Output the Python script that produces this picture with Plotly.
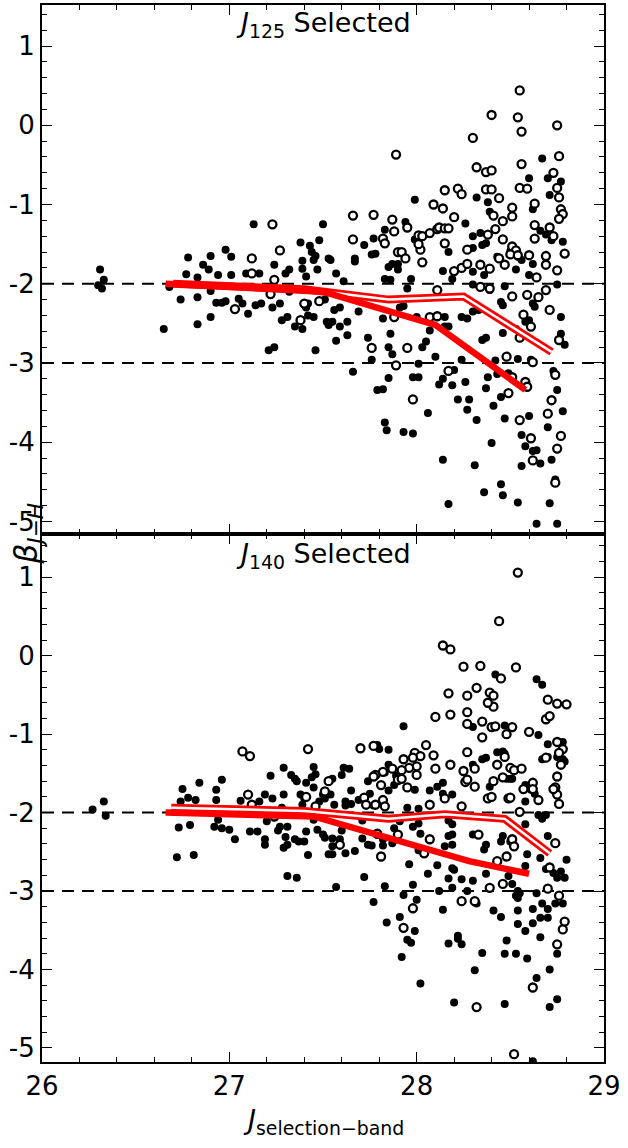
import plotly.graph_objects as go
from plotly.subplots import make_subplots

# ---------------- data ----------------
top_filled = [
 (26.31,-1.82),(26.33,-1.95),(26.30,-2.02),(26.32,-2.06),
 (26.68,-2.04),(26.65,-2.57),(26.74,-2.2),(26.78,-1.67),(26.77,-1.88),(26.83,-2.51),(26.83,-2.17),(26.83,-1.92),
 (26.86,-1.76),(26.89,-1.82),(26.9,-2.09),(26.9,-2.42),(26.9,-1.65),(26.94,-1.89),(26.93,-2.24),(26.96,-2.24),
 (26.98,-2.22),(26.98,-1.57),(27.01,-1.66),(27.01,-1.89),(27.05,-2.19),(27.07,-2.25),(27.1,-2.38),(27.09,-1.87),
 (27.13,-1.25),(27.14,-2.27),(27.16,-1.87),(27.17,-2.25),(27.21,-2.84),(27.24,-2.8),(27.24,-1.76),(27.23,-2.3),
 (27.27,-2.25),(27.28,-2.46),(27.31,-2.42),(27.3,-1.87),(27.32,-1.82),(27.32,-2.1),(27.35,-2.54),(27.39,-2.57),
 (27.38,-1.48),(27.39,-1.71),(27.39,-1.81),(27.41,-1.91),(27.43,-1.52),(27.44,-1.6),(27.45,-1.7),(27.46,-1.65),
 (27.47,-1.82),(27.48,-1.45),(27.5,-1.25),(27.46,-2.84),(27.42,-2.25),(27.41,-2.3),(27.42,-2.4),(27.45,-2.42),
 (27.51,-2.2),(27.52,-2.48),(27.53,-2.52),(27.53,-1.68),
 (27.99,-0.94),(27.94,-1.22),(27.83,-1.32),(27.77,-1.43),(27.72,-1.51),(27.76,-1.63),(27.78,-1.62),(27.67,-1.68),
 (27.67,-1.72),(27.54,-1.7),(27.57,-1.87),(27.61,-1.97),(27.9,-1.75),(27.87,-1.75),(27.85,-1.79),(27.9,-1.82),
 (27.99,-1.44),(28.17,-1.6),(28.14,-1.84),(28.26,-1.24),(27.83,-1.94),(27.86,-1.95),(27.97,-1.94),(27.95,-2.06),(28.19,-1.94),
 (27.56,-2.33),(27.59,-2.3),(27.55,-2.48),(27.59,-2.54),(27.63,-2.48),(27.63,-2.65),(27.57,-2.72),(27.69,-2.35),
 (27.74,-2.68),(27.76,-2.96),(27.66,-3.11),(27.82,-2.44),(27.86,-2.63),(27.85,-2.8),(27.87,-2.89),(27.85,-3.19),
 (27.79,-3.34),(27.82,-3.33),(28.01,-3.01),(27.98,-3.18),(28.01,-3.18),(27.83,-3.75),(27.84,-3.85),(27.93,-3.87),
 (27.98,-3.89),(28.06,-3.63),(28.14,-4.22),(28.17,-4.78),(28.03,-2.8),(28.05,-2.73),(28.1,-2.92),(28.12,-3.27),
 (28.14,-3.2),(28.2,-3.09),(28.19,-3.28),(28.22,-3.46),(28.26,-3.24),(28.28,-3.46),(28.27,-3.59),(28.24,-2.96),
 (28.07,-2.59),(28.15,-2.42),(28.17,-2.54),(28.15,-2.54),(28.0,-2.42),(27.91,-2.3),(27.93,-2.28),(28.24,-2.42),(28.27,-2.44),
 (28.67,-0.42),(28.6,-0.67),(28.7,-0.67),(28.77,-0.71),(28.32,-0.91),(28.38,-0.97),(28.71,-0.88),(28.62,-1.06),
 (28.39,-1.09),(28.66,-1.33),(28.69,-1.38),(28.72,-1.45),(28.3,-1.4),(28.34,-1.36),(28.37,-1.49),(28.35,-1.51),
 (28.3,-1.55),(28.43,-1.66),(28.5,-1.59),(28.56,-1.7),(28.54,-1.66),(28.78,-1.47),(28.3,-1.85),(28.36,-1.89),
 (28.53,-1.82),(28.6,-1.89),(28.62,-1.75),(28.47,-2.03),(28.75,-2.01),(28.39,-2.08),(28.3,-2.01),
 (28.46,-2.27),(28.45,-2.23),(28.3,-2.35),(28.33,-2.33),(28.35,-2.71),(28.37,-2.68),(28.46,-2.62),(28.53,-2.57),
 (28.58,-2.48),(28.62,-2.25),(28.63,-2.29),(28.6,-2.46),(28.77,-2.42),(28.77,-2.63),(28.79,-2.77),(28.42,-2.97),
 (28.54,-2.95),(28.61,-2.96),(28.38,-3.18),(28.43,-3.14),(28.49,-3.13),(28.37,-3.32),(28.45,-3.43),(28.41,-3.54),
 (28.32,-3.72),(28.47,-3.7),(28.6,-3.67),(28.73,-3.1),(28.75,-3.34),(28.78,-3.61),(28.7,-3.81),(28.56,-3.91),
 (28.58,-4.05),(28.62,-4.11),(28.64,-4.1),(28.4,-4.01),(28.31,-4.29),(28.56,-4.3),(28.66,-4.27),(28.72,-4.22),
 (28.45,-4.53),(28.46,-4.67),(28.36,-4.63),(28.54,-4.76),(28.71,-4.77),(28.64,-5.03),(28.75,-5.03),(28.74,-4.47),
]
top_open = [
 (27.03,-2.32),(27.12,-1.68),(27.12,-1.87),(27.23,-1.25),(27.22,-2.13),(27.24,-1.95),(27.27,-1.58),(27.38,-2.46),
 (27.4,-2.25),(27.48,-2.22),
 (27.89,-0.37),(28.3,-0.16),(28.15,-0.82),(28.22,-0.8),(28.24,-0.87),(28.09,-1.0),(28.14,-1.05),(28.2,-1.16),
 (27.66,-1.14),(27.77,-1.13),(27.87,-1.19),(27.95,-1.29),(27.88,-1.34),(27.66,-1.44),(27.82,-1.43),(27.83,-1.49),
 (27.9,-1.6),(27.92,-1.6),(27.94,-1.68),(28.01,-1.39),(28.02,-1.57),(28.01,-1.5),(28.03,-1.4),(28.07,-1.36),
 (28.11,-1.31),(28.12,-1.29),(28.15,-1.3),(28.17,-1.3),(28.15,-1.49),(28.03,-1.73),(28.2,-1.84),(28.24,-1.8),
 (28.27,-1.57),(28.27,-1.75),(28.11,-2.08),
 (27.76,-2.81),(27.89,-3.03),(27.95,-2.81),(27.98,-3.46),(28.17,-3.1),(28.07,-2.42),(28.11,-2.41),(27.88,-2.42),
 (28.55,0.44),(28.4,0.13),(28.54,0.1),(28.56,-0.08),(28.75,0.0),(28.32,-0.53),(28.37,-0.59),(28.4,-0.57),
 (28.56,-0.49),(28.76,-0.39),(28.73,-0.6),(28.37,-0.81),(28.4,-0.81),(28.55,-0.79),(28.59,-0.8),(28.44,-0.92),
 (28.75,-0.79),(28.76,-0.91),(28.63,-0.99),(28.51,-1.04),(28.51,-1.15),(28.77,-1.06),(28.78,-1.12),(28.76,-1.18),
 (28.41,-1.14),(28.46,-1.21),(28.42,-1.31),(28.63,-1.26),(28.71,-1.29),(28.38,-1.38),(28.46,-1.44),(28.63,-1.43),
 (28.73,-1.4),(28.51,-1.53),(28.53,-1.58),(28.5,-1.63),(28.54,-1.64),(28.6,-1.64),(28.69,-1.65),(28.79,-1.62),
 (28.44,-1.68),(28.34,-1.76),(28.47,-1.76),(28.69,-1.76),(28.39,-1.81),(28.75,-1.83),(28.64,-1.92),(28.69,-2.08),
 (28.51,-2.16),(28.59,-2.14),(28.65,-2.17),(28.34,-2.04),(28.39,-2.06),
 (28.71,-2.33),(28.57,-2.39),(28.61,-2.54),(28.55,-2.68),(28.76,-2.71),(28.48,-2.92),(28.62,-2.99),(28.74,-3.15),
 (28.51,-3.18),(28.58,-3.24),(28.59,-3.3),(28.49,-3.38),(28.72,-3.47),(28.7,-3.64),(28.55,-3.72),(28.61,-3.95),
 (28.77,-3.92),(28.75,-4.08),(28.62,-4.23),(28.74,-4.51),
]
bot_filled = [
 (26.27,-1.96),(26.33,-1.86),(26.34,-2.04),(26.72,-2.57),(26.81,-2.54),(26.73,-2.19),(26.79,-2.16),(26.75,-1.7),
 (26.74,-1.86),(26.78,-1.81),(26.82,-1.84),(26.84,-1.62),(26.93,-1.71),(26.93,-1.84),(26.96,-1.58),(26.94,-2.09),
 (26.92,-2.18),(26.96,-2.2),(27.0,-2.22),(27.03,-2.34),(27.06,-1.85),(27.11,-2.24),(27.15,-2.24),(27.16,-1.86),
 (27.19,-1.77),(27.23,-1.82),(27.19,-2.34),(27.19,-2.41),(27.2,-2.11),(27.22,-1.53),(27.26,-2.23),(27.27,-2.18),
 (27.29,-1.43),(27.29,-1.77),(27.28,-1.94),(27.29,-2.45),(27.31,-2.41),(27.31,-2.18),(27.3,-2.31),(27.33,-1.52),
 (27.35,-1.57),(27.36,-1.6),(27.41,-1.62),(27.45,-1.68),(27.31,-2.81),(27.36,-2.83),(27.35,-2.34),(27.37,-2.37),
 (27.4,-2.37),(27.41,-2.24),(27.42,-2.54),(27.38,-1.77),(27.39,-1.9),(27.4,-1.82),(27.45,-1.42),(27.46,-1.51),
 (27.44,-1.55),(27.45,-2.09),(27.47,-2.22),(27.5,-2.28),(27.51,-2.32),(27.53,-2.53),(27.5,-1.77),(27.51,-1.82),(27.48,-1.86),
 (27.93,-0.9),(27.79,-1.14),(27.8,-1.19),(27.85,-1.2),(27.61,-1.43),(27.64,-1.44),(27.6,-1.52),(27.85,-1.39),
 (27.87,-1.44),(27.83,-1.49),(27.74,-1.6),(27.77,-1.54),(27.89,-1.53),(27.9,-1.6),(27.88,-1.65),(27.99,-1.71),
 (27.85,-1.72),(27.65,-1.72),(28.14,-1.62),(28.11,-1.67),(28.07,-1.72),(28.14,-1.76),(28.19,-1.77),(27.56,-1.9),
 (27.62,-1.86),(27.62,-1.91),(27.65,-1.89),(27.69,-1.84),(27.75,-1.76),(27.54,-1.77),(27.55,-1.57),(27.77,-1.91),
 (27.95,-1.94),(28.01,-1.95),(27.91,-2.11),(27.88,-2.2),(27.98,-2.18),(28.01,-2.14),(28.17,-2.1),(28.19,-2.15),
 (27.6,-2.23),(27.71,-2.1),
 (27.55,-2.33),(27.59,-2.34),(27.55,-2.43),(27.55,-2.53),(27.62,-2.52),(27.67,-2.49),(27.71,-2.33),(27.74,-2.41),
 (27.76,-2.42),(27.82,-2.42),(27.82,-2.34),(27.87,-2.39),(27.57,-2.95),(27.72,-2.82),(27.77,-3.14),(27.83,-2.94),
 (27.84,-3.4),(27.96,-2.66),(27.98,-2.92),(27.93,-3.05),(28.0,-3.11),(27.91,-3.33),(27.99,-3.51),(27.95,-3.62),
 (27.97,-3.66),(27.92,-3.84),(28.02,-4.18),(28.2,-4.42),(28.02,-2.27),(28.01,-2.48),(28.06,-2.78),(28.11,-2.67),
 (28.12,-3.0),(28.14,-3.24),(28.17,-2.84),(28.19,-2.71),(28.2,-2.73),(28.19,-2.96),(28.17,-3.67),(28.22,-3.57),
 (28.22,-3.61),(28.24,-3.68),(28.24,-2.85),(28.27,-3.0),(28.15,-2.43),(28.19,-2.41),(28.17,-2.3),(28.19,-2.28),
 (28.42,-0.24),(28.64,-0.3),(28.67,-0.37),(28.3,-0.91),(28.47,-0.89),(28.65,-1.01),(28.7,-1.13),(28.78,-1.1),
 (28.35,-1.32),(28.37,-1.3),(28.43,-1.23),(28.46,-1.22),(28.47,-1.25),(28.67,-1.32),(28.7,-1.29),(28.75,-1.29),
 (28.78,-1.32),(28.79,-1.35),(28.48,-1.57),(28.5,-1.57),(28.51,-1.57),(28.39,-1.67),(28.58,-1.65),(28.61,-1.71),
 (28.63,-1.76),(28.58,-1.86),(28.3,-1.39),(28.65,-2.03),(28.69,-2.03),(28.67,-2.08),(28.58,-2.15),
 (28.37,-2.41),(28.36,-2.47),(28.3,-2.28),(28.46,-2.3),(28.45,-2.37),(28.5,-2.37),(28.59,-2.53),(28.66,-2.58),
 (28.7,-2.3),(28.69,-2.72),(28.73,-2.77),(28.75,-2.83),(28.77,-2.75),(28.79,-2.83),(28.8,-2.6),(28.58,-2.68),
 (28.49,-2.81),(28.51,-2.91),(28.54,-3.0),(28.55,-3.03),(28.53,-3.06),(28.54,-3.09),(28.37,-2.78),(28.3,-2.87),
 (28.64,-3.03),(28.32,-3.16),(28.41,-3.25),(28.45,-3.33),(28.54,-3.25),(28.62,-3.23),(28.7,-3.23),(28.67,-3.16),
 (28.74,-3.16),(28.78,-3.16),(28.54,-3.42),(28.62,-3.41),(28.66,-3.34),(28.7,-3.34),(28.58,-3.51),(28.66,-3.59),
 (28.48,-3.63),(28.75,-3.8),(28.47,-3.8),(28.53,-3.8),(28.59,-3.86),(28.35,-3.79),(28.31,-4.01),(28.71,-4.0),
 (28.64,-4.11),(28.47,-4.44),(28.71,-4.48),(28.75,-4.38),(28.62,-5.17),
]
bot_open = [
 (27.07,-1.22),(27.11,-1.28),(27.42,-1.19),(27.1,-1.77),(27.12,-1.9),(27.41,-1.8),(27.53,-1.6),(27.51,-1.73),
 (27.24,-2.05),(27.46,-1.92),
 (28.14,0.13),(28.18,0.08),(28.25,-0.14),(28.17,-0.48),(28.27,-0.51),(28.1,-0.78),(28.18,-0.75),(28.27,-0.72),
 (28.27,-0.87),(27.7,-1.18),(27.77,-1.15),(28.05,-1.14),(28.09,-1.27),(27.99,-1.24),(28.02,-1.28),(27.93,-1.32),
 (27.98,-1.3),(28.0,-1.41),(27.96,-1.43),(27.92,-1.46),(27.87,-1.44),(28.1,-1.44),(28.18,-1.39),(28.27,-1.23),
 (27.82,-1.48),(27.78,-1.52),(27.77,-1.54),(28.0,-1.52),(27.81,-1.65),(27.9,-1.58),(27.92,-1.57),(27.95,-1.68),
 (28.25,-1.47),(28.26,-1.61),(28.27,-1.58),(28.15,-1.82),(27.72,-1.81),(27.73,-1.9),(27.82,-1.84),(27.83,-1.92),
 (27.78,-1.9),(28.07,-1.9),(28.24,-1.92),
 (27.59,-2.41),(27.81,-2.56),(27.79,-2.27),(27.9,-2.28),(28.07,-2.34),(28.04,-2.52),(27.98,-3.22),(27.93,-3.47),(28.24,-3.13),
 (28.54,1.06),(28.44,0.44),(28.34,-0.13),(28.53,-0.15),(28.45,-0.29),(28.32,-0.41),(28.39,-0.47),(28.41,-0.51),
 (28.41,-0.65),(28.38,-0.6),(28.7,-0.56),(28.75,-0.61),(28.8,-0.62),(28.69,-0.81),(28.71,-0.77),(28.35,-0.84),
 (28.35,-1.04),(28.4,-0.91),(28.42,-0.9),(28.51,-0.91),(28.48,-1.0),(28.6,-0.97),(28.75,-1.1),(28.78,-1.19),
 (28.31,-1.44),(28.43,-1.39),(28.47,-1.29),(28.5,-1.43),(28.52,-1.46),(28.56,-1.44),(28.69,-1.3),(28.76,-1.24),
 (28.77,-1.39),(28.41,-1.6),(28.31,-1.67),(28.46,-1.55),(28.62,-1.62),(28.62,-1.7),(28.57,-1.7),(28.75,-1.54),
 (28.74,-1.68),(28.75,-1.77),(28.76,-1.89),(28.73,-1.7),(28.38,-1.82),(28.40,-1.8),(28.49,-1.82),(28.5,-1.81),
 (28.65,-1.84),(28.55,-1.99),
 (28.33,-2.28),(28.48,-2.56),(28.43,-2.62),(28.46,-2.91),(28.39,-2.96),(28.31,-3.13),(28.7,-2.97),(28.76,-3.06),
 (28.74,-2.39),(28.51,-2.34),(28.52,-2.43),(28.71,-2.7),(28.79,-3.39),(28.78,-3.49),(28.75,-3.68),(28.62,-4.23),
 (28.32,-4.48),(28.52,-5.08),
]
# median trends
top_thick_x = [26.66, 27.5, 28.1, 28.58]
top_thick_y = [-2.0, -2.1, -2.52, -3.34]
top_ring_x = [26.7, 27.4, 27.85, 28.25, 28.72]
top_ring_y = [-2.0, -2.07, -2.2, -2.16, -2.86]
bot_thick_x = [26.66, 27.45, 28.28, 28.6]
bot_thick_y = [-2.0, -2.05, -2.62, -2.78]
bot_ring_x = [26.69, 27.4, 27.85, 28.15, 28.47, 28.71]
bot_ring_y = [-1.94, -1.98, -2.08, -2.02, -2.08, -2.52]
ref_levels = [-2, -3]
x_ticks = [26, 27, 28, 29]
y_ticks = [1, 0, -1, -2, -3, -4, -5]
panel_titles = ["<i>J</i><sub>125</sub> Selected", "<i>J</i><sub>140</sub> Selected"]

FONT = "DejaVu Sans"

fig = make_subplots(rows=2, cols=1, shared_xaxes=True, vertical_spacing=0)

def add_panel(row, filled, opened, thick_x, thick_y, ring_x, ring_y):
    for lv in ref_levels:
        fig.add_trace(go.Scatter(x=[26, 29], y=[lv, lv], mode="lines",
                                 line=dict(color="black", width=2, dash="12px,8px"),
                                 showlegend=False, hoverinfo="skip"), row=row, col=1)
    fig.add_trace(go.Scatter(x=[p[0] for p in filled], y=[p[1] for p in filled], mode="markers",
                             marker=dict(symbol="circle", size=8, color="black", line=dict(width=0)),
                             showlegend=False), row=row, col=1)
    fig.add_trace(go.Scatter(x=[p[0] for p in opened], y=[p[1] for p in opened], mode="markers",
                             marker=dict(symbol="circle", size=8, color="white",
                                         line=dict(width=2.3, color="black")),
                             showlegend=False), row=row, col=1)
    fig.add_trace(go.Scatter(x=ring_x, y=ring_y, mode="lines",
                             line=dict(color="red", width=8), showlegend=False), row=row, col=1)
    fig.add_trace(go.Scatter(x=ring_x, y=ring_y, mode="lines",
                             line=dict(color="white", width=2.5), showlegend=False), row=row, col=1)
    fig.add_trace(go.Scatter(x=thick_x, y=thick_y, mode="lines",
                             line=dict(color="red", width=6.5), showlegend=False), row=row, col=1)

add_panel(1, top_filled, top_open, top_thick_x, top_thick_y, top_ring_x, top_ring_y)
add_panel(2, bot_filled, bot_open, bot_thick_x, bot_thick_y, bot_ring_x, bot_ring_y)

axis_common = dict(showline=True, linecolor="black", linewidth=2, mirror="allticks",
                   ticks="inside", ticklen=10, tickwidth=1.2, tickcolor="black",
                   showgrid=False, zeroline=False,
                   tickfont=dict(family=FONT, size=26, color="black"))
for r in (1, 2):
    fig.update_xaxes(range=[26, 29], tickvals=x_ticks, ticktext=[str(v) for v in x_ticks],
                     minor=dict(dtick=0.2, tick0=26, ticks="inside", ticklen=5, tickcolor="black", tickwidth=1),
                     showticklabels=(r == 2), row=r, col=1, **axis_common)
fig.update_yaxes(range=[-5.152, 1.518], row=1, col=1)
fig.update_yaxes(range=[-5.18, 1.558], row=2, col=1)
for r in (1, 2):
    fig.update_yaxes(tickvals=y_ticks, ticktext=[str(v) for v in y_ticks],
                     minor=dict(dtick=0.2, tick0=0, ticks="inside", ticklen=5, tickcolor="black", tickwidth=1),
                     row=r, col=1, **axis_common)

fig.add_annotation(text=panel_titles[0], xref="x domain", yref="y domain", x=0.5, y=0.964,
                   showarrow=False, font=dict(family=FONT, size=27, color="black"), yanchor="middle")
fig.add_annotation(text=panel_titles[1], xref="x2 domain", yref="y2 domain", x=0.5, y=0.959,
                   showarrow=False, font=dict(family=FONT, size=27, color="black"), yanchor="middle")
fig.add_annotation(text="<i>J</i><sub>selection\u2212band</sub>", xref="paper", yref="paper",
                   x=0.5, y=0, yshift=-59, showarrow=False, yanchor="middle",
                   font=dict(family=FONT, size=27, color="black"))
fig.add_annotation(text="<i>\u03b2</i><sub><i>J\u2212H</i></sub>", xref="paper", yref="paper",
                   x=0, y=0.5, xshift=-14, showarrow=False, textangle=-90, xanchor="center",
                   font=dict(family=FONT, size=31, color="black"))

fig.update_layout(width=628, height=1148, margin=dict(l=42, r=24, t=3, b=86),
                  plot_bgcolor="white", paper_bgcolor="white", showlegend=False)

fig.write_html("out.html", config={"displayModeBar": False},
               post_script="document.body.style.margin='0';document.body.style.overflow='hidden';")
